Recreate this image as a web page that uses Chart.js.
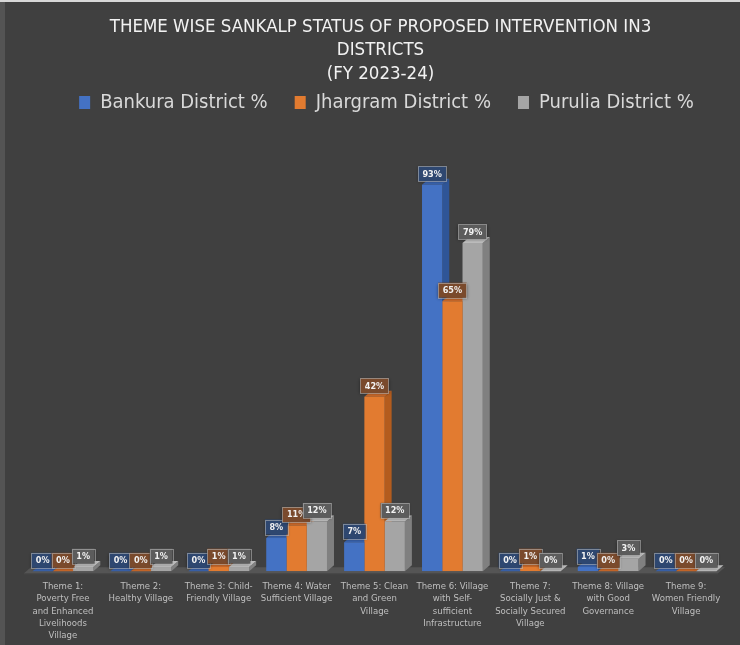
<!DOCTYPE html>
<html>
<head>
<meta charset="utf-8">
<title>Theme wise Sankalp status</title>
<script src="https://cdn.jsdelivr.net/npm/chart.js@4.4.1/dist/chart.umd.min.js"></script>
<style>
  body { margin: 0; background: #404040; }
  #wrap { width: 740px; height: 645px; position: relative; }
</style>
</head>
<body>
<div id="wrap"><canvas id="sankalpChart"></canvas></div>
<script>
// data
var themes = [
  ['Theme 1:', 'Poverty Free', 'and Enhanced', 'Livelihoods', 'Village'],
  ['Theme 2:', 'Healthy Village'],
  ['Theme 3: Child-', 'Friendly Village'],
  ['Theme 4: Water', 'Sufficient Village'],
  ['Theme 5: Clean', 'and Green', 'Village'],
  ['Theme 6: Village', 'with Self-', 'sufficient', 'Infrastructure'],
  ['Theme 7:', 'Socially Just &', 'Socially Secured', 'Village'],
  ['Theme 8: Village', 'with Good', 'Governance'],
  ['Theme 9:', 'Women Friendly', 'Village']
];
var bankura = [0, 0, 0, 8, 7, 93, 0, 1, 0];
var jhargram = [0, 0, 1, 11, 42, 65, 1, 0, 0];
var purulia = [1, 1, 1, 12, 12, 79, 0, 3, 0];
var seriesNames = ['Bankura District %', 'Jhargram District %', 'Purulia District %'];
var titleLines = ['THEME WISE SANKALP STATUS OF PROPOSED INTERVENTION IN3', 'DISTRICTS', '(FY 2023-24)'];

var FONT = '"Liberation Sans Narrow", "DejaVu Sans Condensed", Calibri, sans-serif';
var DX = 7, DY = 6;

function poly(ctx, pts, color) {
  ctx.fillStyle = color;
  ctx.beginPath();
  ctx.moveTo(pts[0][0], pts[0][1]);
  for (var k = 1; k < pts.length; k++) ctx.lineTo(pts[k][0], pts[k][1]);
  ctx.closePath();
  ctx.fill();
}

function shiftBox(box, dx) {
  if (!box) return;
  box.left += dx;
  box.right += dx;
  if (box.legendHitBoxes) box.legendHitBoxes.forEach(function(hb) { hb.left += dx; });
}

var bars3d = {
  id: 'bars3d',
  afterLayout: function(chart) {
    // header sits a little right of centre in the original
    shiftBox(chart.titleBlock, 6);
    shiftBox(chart.legend, 12);
  },
  beforeDraw: function(chart) {
    var ctx = chart.ctx;
    ctx.save();
    ctx.fillStyle = '#404040';
    ctx.fillRect(0, 0, chart.width, chart.height);
    ctx.fillStyle = '#545454';
    ctx.fillRect(0, 0, 5, chart.height);
    ctx.fillStyle = '#d8d8d8';
    ctx.fillRect(0, 0, chart.width, 2);
    ctx.restore();
  },
  beforeDatasetsDraw: function(chart) {
    var ctx = chart.ctx, area = chart.chartArea;
    var base = chart.scales.y.getPixelForValue(0);
    ctx.save();
    // floor
    poly(ctx, [[area.left, base + 2], [area.right - DX, base + 2], [area.right, base + 2 - DY], [area.left + DX, base + 2 - DY]], '#555555');
    poly(ctx, [[area.left, base + 2], [area.right - DX, base + 2], [area.right - DX, base + 3], [area.left, base + 3]], '#4a4a4a');
    chart.data.datasets.forEach(function(ds, i) {
      var meta = chart.getDatasetMeta(i);
      meta.data.forEach(function(bar) {
        var p = bar.getProps(['x', 'y', 'base', 'width'], true);
        var l = p.x - p.width / 2, r = p.x + p.width / 2, t = p.y, b = p.base;
        poly(ctx, [[r, t], [r + DX, t - DY], [r + DX, b - DY], [r, b]], ds.sideColor);
        poly(ctx, [[l, t], [r, t], [r + DX, t - DY], [l + DX, t - DY]], ds.topColor);
      });
    });
    ctx.restore();
  },
  afterDatasetsDraw: function(chart) {
    var ctx = chart.ctx;
    ctx.save();
    ctx.font = 'bold 9px ' + FONT;
    ctx.textAlign = 'center';
    ctx.textBaseline = 'middle';
    chart.data.datasets.forEach(function(ds, i) {
      var meta = chart.getDatasetMeta(i);
      meta.data.forEach(function(bar, j) {
        var p = bar.getProps(['x', 'y'], true);
        var txt = ds.data[j] + '%';
        var w = ctx.measureText(txt).width + 9, h = 15;
        var cx = p.x, cy = p.y - 11;
        ctx.shadowColor = 'rgba(0,0,0,0.45)';
        ctx.shadowBlur = 3;
        ctx.shadowOffsetY = 1;
        ctx.fillStyle = ds.labelFill;
        ctx.fillRect(cx - w / 2, cy - h / 2, w, h);
        ctx.shadowColor = 'transparent';
        ctx.strokeStyle = 'rgba(190,190,190,0.55)';
        ctx.lineWidth = 1;
        ctx.strokeRect(Math.round(cx - w / 2) + 0.5, Math.round(cy - h / 2) + 0.5, Math.round(w), h);
        ctx.fillStyle = '#f2f2f2';
        ctx.fillText(txt, cx, cy + 0.5);
      });
    });
    ctx.restore();
  }
};

var chartdata = {
  labels: themes,
  datasets: [
    {
      label: seriesNames[0],
      data: bankura,
      backgroundColor: '#4472c4',
      sideColor: '#2f5597',
      topColor: '#3a63ad',
      labelFill: '#2e4770'
    },
    {
      label: seriesNames[1],
      data: jhargram,
      backgroundColor: '#e27b30',
      sideColor: '#b35c1e',
      topColor: '#c9692a',
      labelFill: '#7a4a2c'
    },
    {
      label: seriesNames[2],
      data: purulia,
      backgroundColor: '#a5a5a5',
      sideColor: '#808080',
      topColor: '#bdbdbd',
      labelFill: '#5c5c5c'
    }
  ]
};

new Chart(document.getElementById('sankalpChart'), {
  type: 'bar',
  data: chartdata,
  plugins: [bars3d],
  options: {
    responsive: true,
    maintainAspectRatio: false,
    animation: false,
    layout: { padding: { left: 24, right: 15, top: 0, bottom: -6 } },
    datasets: { bar: { categoryPercentage: 0.78, barPercentage: 1.0, borderWidth: 0 } },
    plugins: {
      title: {
        display: true,
        text: titleLines,
        color: '#f2f2f2',
        font: { family: FONT, size: 18.5, weight: 'normal', lineHeight: 1.27 },
        padding: { top: 15, bottom: -20 }
      },
      legend: {
        display: true,
        labels: {
          color: '#d9d9d9',
          font: { family: FONT, size: 20 },
          boxWidth: 11,
          boxHeight: 13,
          padding: 27
        }
      },
      tooltip: { enabled: false }
    },
    scales: {
      x: {
        grid: { display: false, drawTicks: false },
        border: { display: false },
        ticks: {
          color: '#bfbfbf',
          font: { family: FONT, size: 9.5, lineHeight: 1.3 },
          maxRotation: 0,
          autoSkip: false,
          padding: 9
        }
      },
      y: {
        display: false,
        min: 0,
        max: 108
      }
    }
  }
});
</script>
</body>
</html>
